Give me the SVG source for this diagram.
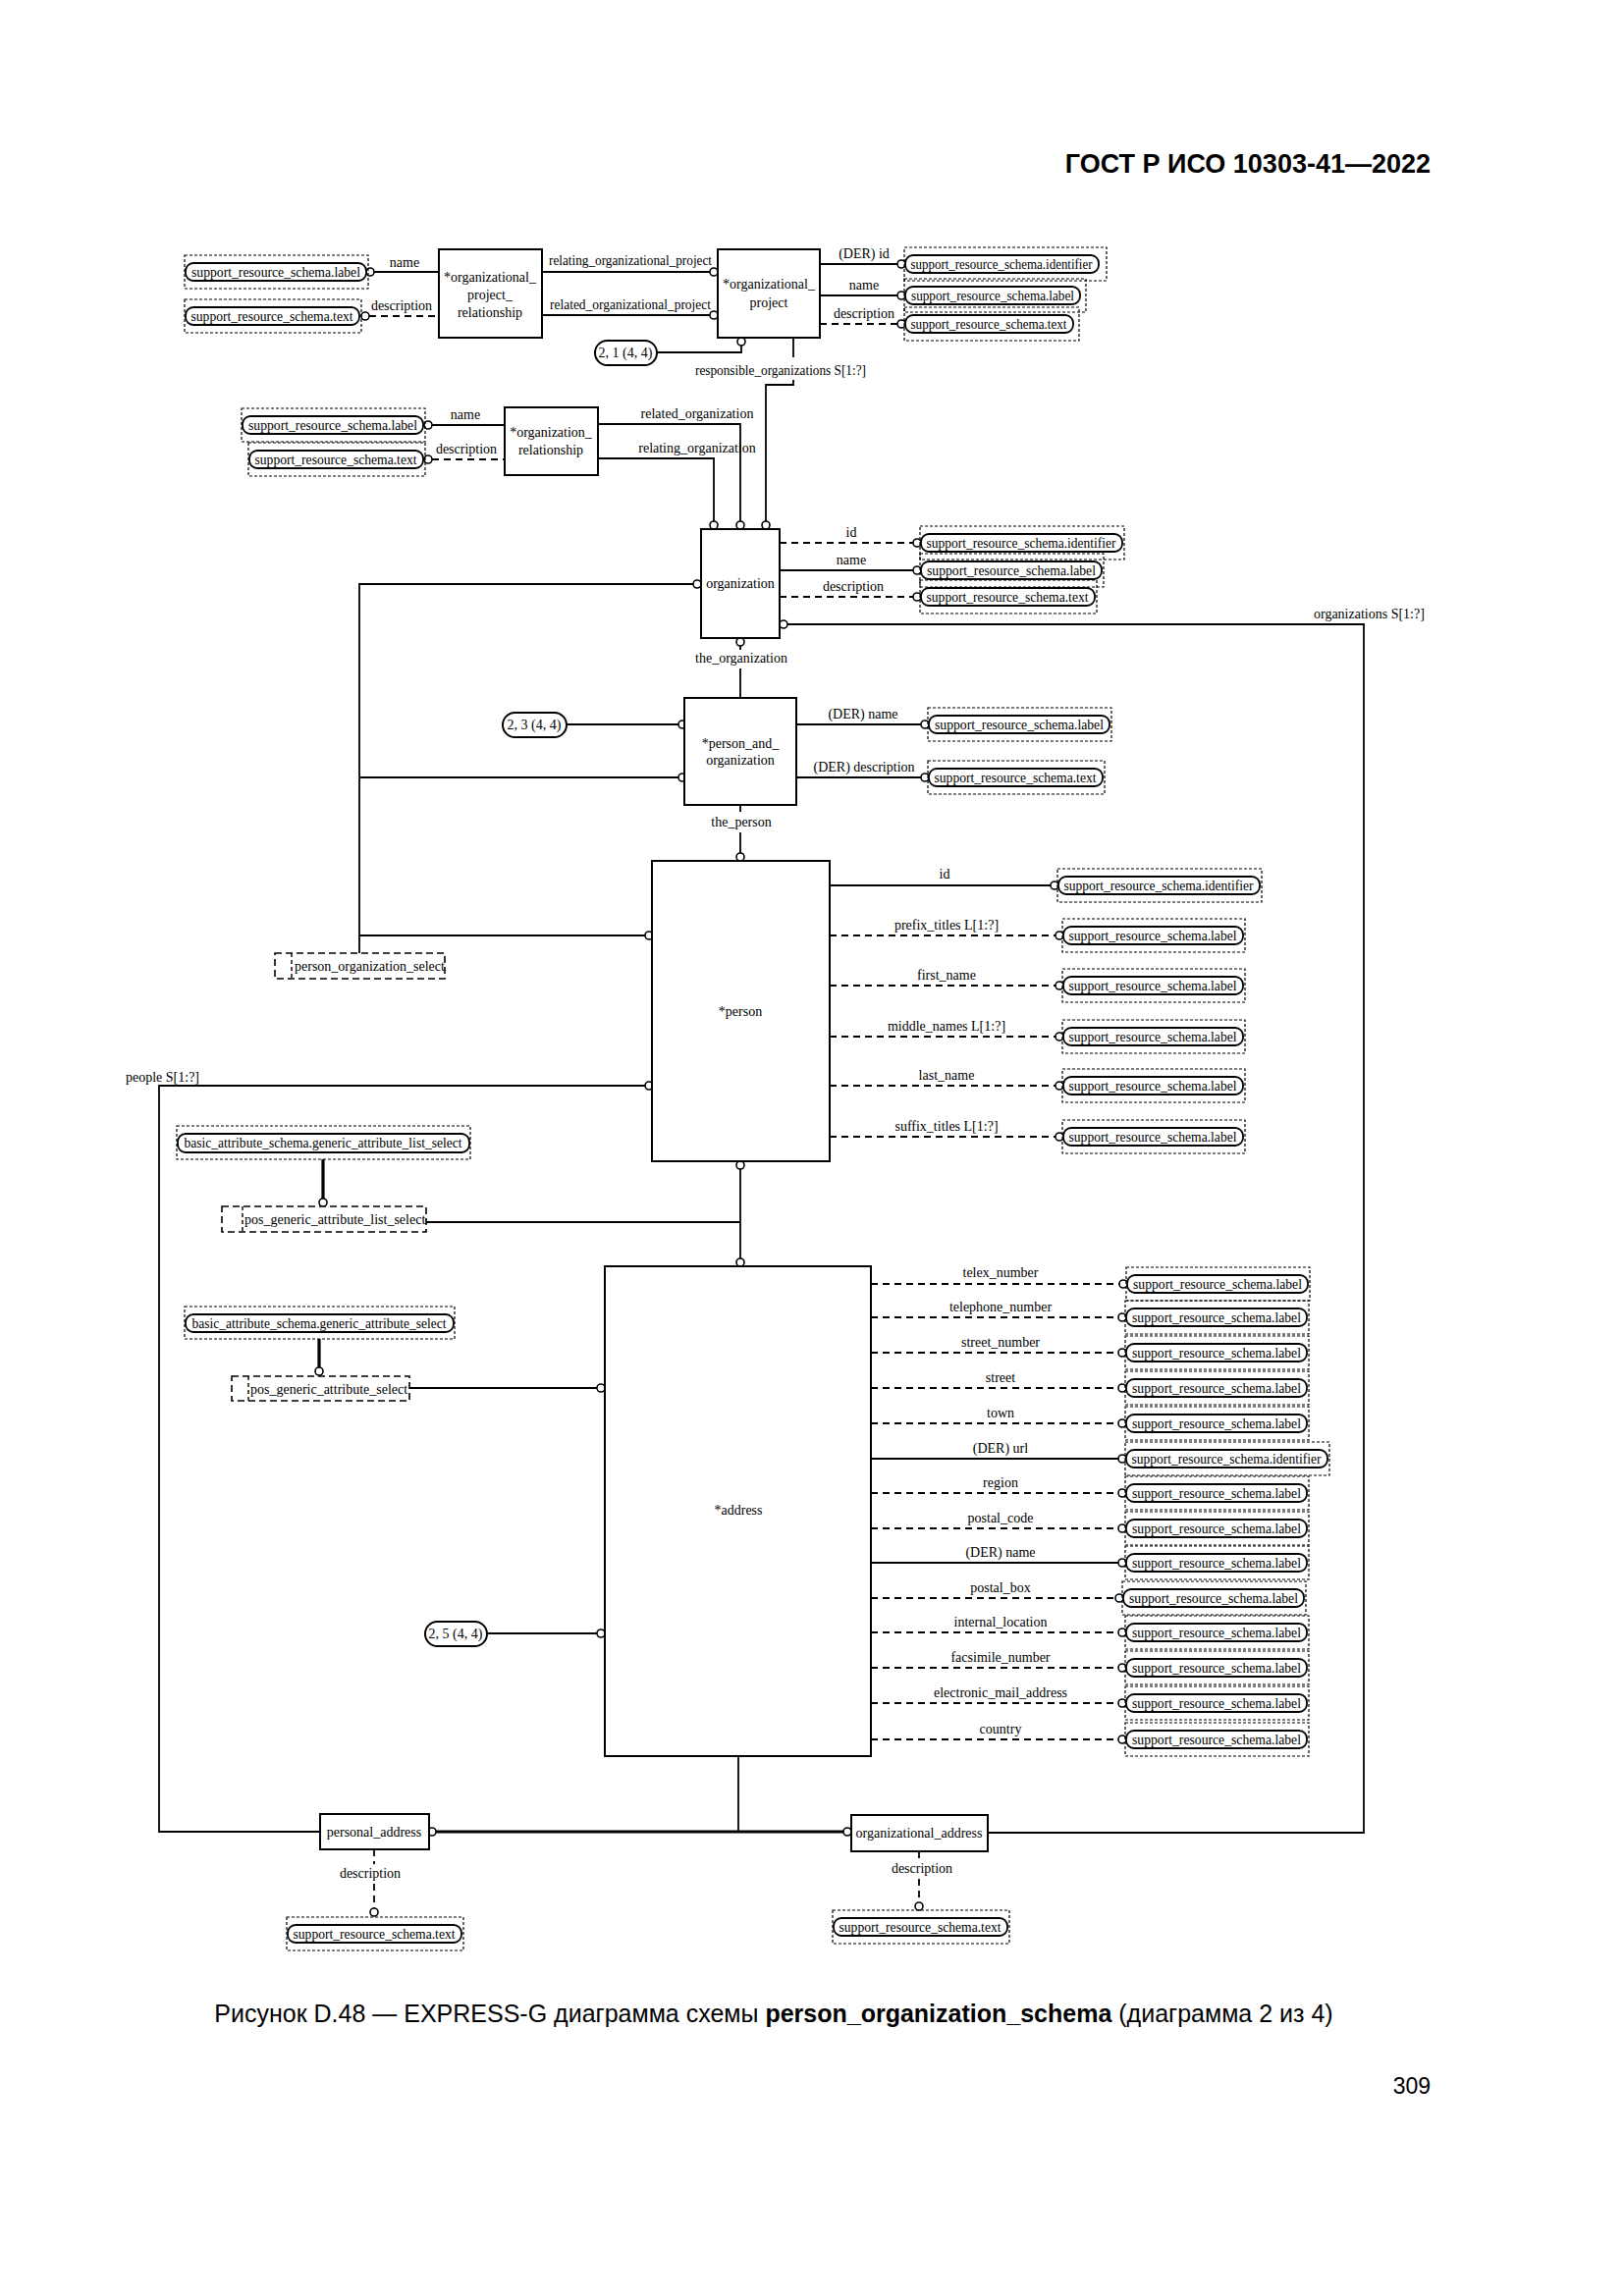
<svg xmlns="http://www.w3.org/2000/svg" width="1654" height="2339" viewBox="0 0 1654 2339">
<style>
.b{fill:#fff;stroke:#000;stroke-width:2}
.rr{fill:#fff;stroke:#000;stroke-width:1.8}
.ro{fill:none;stroke:#000;stroke-width:1.2;stroke-dasharray:3 2}
.sel{fill:#fff;stroke:#000;stroke-width:1.6;stroke-dasharray:7 4}
.sv{fill:none;stroke:#000;stroke-width:1.4;stroke-dasharray:4 3}
.l{fill:none;stroke:#000;stroke-width:1.8}
.d{fill:none;stroke:#000;stroke-width:1.8;stroke-dasharray:7 5}
.k{fill:none;stroke:#000;stroke-width:3.2}
.c{fill:#fff;stroke:#000;stroke-width:1.6}
text{font-family:"Liberation Serif","Times New Roman",serif;font-size:14px;fill:#000}
.m{text-anchor:middle}
.pg{font-family:"Liberation Sans",Arial,sans-serif;font-size:23px}
.cap{font-family:"Liberation Sans",Arial,sans-serif;font-size:25px;text-anchor:middle}
.hd{font-family:"Liberation Sans",Arial,sans-serif;font-size:27px;font-weight:bold;text-anchor:end}
</style>
<rect width="1654" height="2339" fill="#fff"/>
<text class="hd" x="1457" y="176">ГОСТ Р ИСО 10303-41—2022</text>
<text class="cap" x="788" y="2060">Рисунок D.48 — EXPRESS-G диаграмма схемы <tspan font-weight="bold">person_organization_schema</tspan> (диаграмма 2 из 4)</text>
<text class="pg" x="1457" y="2133" text-anchor="end">309</text>

<g id="connectors">
<path class="l" d="M381 277H447"/><path class="d" d="M376 322H447"/>
<path class="l" d="M552 277H723"/><path class="l" d="M552 321H723"/>
<path class="l" d="M669 359H755V352"/>
<path class="l" d="M835 269H914"/><path class="l" d="M835 301H914"/><path class="d" d="M835 330H914"/>
<path class="l" d="M808 344V364"/><path class="l" d="M808 387V392H780V531"/>
<path class="l" d="M440 433H514"/><path class="d" d="M440 468H514"/>
<path class="l" d="M609 432H754V531"/><path class="l" d="M609 467H727V531"/>
<path class="d" d="M794 553H930"/><path class="l" d="M794 581H930"/><path class="d" d="M794 608H930"/>
<path class="l" d="M802 636H1389V1867H1006"/>
<path class="l" d="M706 595H366V971"/>
<path class="l" d="M754 658V662"/><path class="l" d="M754 681V711"/>
<path class="l" d="M577 738H691"/><path class="l" d="M366 792H691"/>
<path class="l" d="M811 738H938"/><path class="l" d="M811 792H938"/>
<path class="l" d="M754 820V827"/><path class="l" d="M754 848V869"/>
<path class="l" d="M366 953H657"/>
<path class="l" d="M657 1106H162V1866H326"/>
<path class="l" d="M845 902H1074"/>
<path class="d" d="M845 953H1079"/><path class="d" d="M845 1004H1079"/><path class="d" d="M845 1056H1079"/><path class="d" d="M845 1106H1079"/><path class="d" d="M845 1158H1079"/>
<path class="k" d="M329 1181V1221"/>
<path class="l" d="M434 1245H754"/><path class="l" d="M754 1191V1282"/>
<path class="k" d="M325 1364V1393"/>
<path class="l" d="M417 1414H608"/>
<path class="l" d="M496 1664H608"/>
<path class="d" d="M887 1308H1144"/><path class="d" d="M887 1342H1143"/><path class="d" d="M887 1378H1143"/><path class="d" d="M887 1414H1143"/><path class="d" d="M887 1450H1143"/>
<path class="l" d="M887 1486H1143"/>
<path class="d" d="M887 1521H1143"/><path class="d" d="M887 1557H1143"/>
<path class="l" d="M887 1592H1143"/>
<path class="d" d="M887 1628H1140"/><path class="d" d="M887 1663H1143"/><path class="d" d="M887 1699H1143"/><path class="d" d="M887 1735H1143"/><path class="d" d="M887 1772H1143"/>
<path class="l" d="M752 1789V1866"/>
<path class="k" d="M444 1866H859"/>
<path class="d" d="M381 1884V1899"/><path class="d" d="M381 1919V1944"/>
<path class="d" d="M936 1886V1895"/><path class="d" d="M936 1914V1938"/>
<circle class="c" cx="377" cy="277" r="4"/><circle class="c" cx="372" cy="322" r="4"/>
<circle class="c" cx="727" cy="277" r="4"/><circle class="c" cx="727" cy="321" r="4"/>
<circle class="c" cx="755" cy="348" r="4"/>
<circle class="c" cx="918" cy="269" r="4"/><circle class="c" cx="918" cy="301" r="4"/><circle class="c" cx="918" cy="330" r="4"/>
<circle class="c" cx="436" cy="433" r="4"/><circle class="c" cx="436" cy="468" r="4"/>
<circle class="c" cx="727" cy="535" r="4"/><circle class="c" cx="754" cy="535" r="4"/><circle class="c" cx="780" cy="535" r="4"/>
<circle class="c" cx="934" cy="553" r="4"/><circle class="c" cx="934" cy="581" r="4"/><circle class="c" cx="934" cy="608" r="4"/>
<circle class="c" cx="798" cy="636" r="4"/><circle class="c" cx="710" cy="595" r="4"/><circle class="c" cx="754" cy="654" r="4"/>
<circle class="c" cx="695" cy="738" r="4"/><circle class="c" cx="695" cy="792" r="4"/>
<circle class="c" cx="942" cy="738" r="4"/><circle class="c" cx="942" cy="792" r="4"/>
<circle class="c" cx="754" cy="873" r="4"/>
<circle class="c" cx="661" cy="953" r="4"/><circle class="c" cx="661" cy="1106" r="4"/>
<circle class="c" cx="1074" cy="902" r="4"/>
<circle class="c" cx="1079" cy="953" r="4"/><circle class="c" cx="1079" cy="1004" r="4"/><circle class="c" cx="1079" cy="1056" r="4"/><circle class="c" cx="1079" cy="1106" r="4"/><circle class="c" cx="1079" cy="1158" r="4"/>
<circle class="c" cx="329" cy="1225" r="4" stroke-width="2.4"/>
<circle class="c" cx="754" cy="1187" r="4"/><circle class="c" cx="754" cy="1286" r="4"/>
<circle class="c" cx="325" cy="1397" r="4" stroke-width="2.4"/>
<circle class="c" cx="612" cy="1414" r="4"/><circle class="c" cx="612" cy="1664" r="4"/>
<circle class="c" cx="1144" cy="1308" r="4"/><circle class="c" cx="1143" cy="1342" r="4"/><circle class="c" cx="1143" cy="1378" r="4"/><circle class="c" cx="1143" cy="1414" r="4"/><circle class="c" cx="1143" cy="1450" r="4"/><circle class="c" cx="1143" cy="1486" r="4"/><circle class="c" cx="1143" cy="1521" r="4"/><circle class="c" cx="1143" cy="1557" r="4"/><circle class="c" cx="1143" cy="1592" r="4"/><circle class="c" cx="1140" cy="1628" r="4"/><circle class="c" cx="1143" cy="1663" r="4"/><circle class="c" cx="1143" cy="1699" r="4"/><circle class="c" cx="1143" cy="1735" r="4"/><circle class="c" cx="1143" cy="1772" r="4"/>
<circle class="c" cx="440" cy="1866" r="4" stroke-width="2.4"/><circle class="c" cx="863" cy="1866" r="4" stroke-width="2.4"/>
<circle class="c" cx="381" cy="1948" r="4"/><circle class="c" cx="936" cy="1942" r="4"/>
<text class="m" x="412" y="272">name</text>
<text class="m" x="409" y="316">description</text>
<text class="m" x="642" y="270" textLength="166" lengthAdjust="spacingAndGlyphs">relating_organizational_project</text>
<text class="m" x="642" y="315" textLength="164" lengthAdjust="spacingAndGlyphs">related_organizational_project</text>
<text class="m" x="880" y="263">(DER) id</text>
<text class="m" x="880" y="295">name</text>
<text class="m" x="880" y="324">description</text>
<text class="m" x="795" y="382" textLength="174" lengthAdjust="spacingAndGlyphs">responsible_organizations S[1:?]</text>
<text class="m" x="474" y="427">name</text>
<text class="m" x="475" y="462">description</text>
<text class="m" x="710" y="426">related_organization</text>
<text class="m" x="710" y="461">relating_organization</text>
<text class="m" x="867" y="547">id</text>
<text class="m" x="867" y="575">name</text>
<text class="m" x="869" y="602">description</text>
<text x="1338" y="630">organizations S[1:?]</text>
<text class="m" x="755" y="675">the_organization</text>
<text class="m" x="879" y="732">(DER) name</text>
<text class="m" x="880" y="786">(DER) description</text>
<text class="m" x="755" y="842">the_person</text>
<text class="m" x="962" y="895">id</text>
<text class="m" x="964" y="947">prefix_titles L[1:?]</text>
<text class="m" x="964" y="998">first_name</text>
<text class="m" x="964" y="1050">middle_names L[1:?]</text>
<text class="m" x="964" y="1100">last_name</text>
<text class="m" x="964" y="1152">suffix_titles L[1:?]</text>
<text x="128" y="1102">people S[1:?]</text>
<text class="m" x="1019" y="1301">telex_number</text>
<text class="m" x="1019" y="1336">telephone_number</text>
<text class="m" x="1019" y="1372">street_number</text>
<text class="m" x="1019" y="1408">street</text>
<text class="m" x="1019" y="1444">town</text>
<text class="m" x="1019" y="1480">(DER) url</text>
<text class="m" x="1019" y="1515">region</text>
<text class="m" x="1019" y="1551">postal_code</text>
<text class="m" x="1019" y="1586">(DER) name</text>
<text class="m" x="1019" y="1622">postal_box</text>
<text class="m" x="1019" y="1657">internal_location</text>
<text class="m" x="1019" y="1693">facsimile_number</text>
<text class="m" x="1019" y="1729">electronic_mail_address</text>
<text class="m" x="1019" y="1766">country</text>
<text class="m" x="377" y="1913">description</text>
<text class="m" x="939" y="1908">description</text>
</g>

<g id="organizational_project_relationship"><rect class="b" x="447" y="254" width="105" height="90"/><text class="m" x="499" y="287">*organizational_</text><text class="m" x="499" y="305">project_</text><text class="m" x="499" y="323">relationship</text></g>
<g id="organizational_project"><rect class="b" x="731" y="254" width="104" height="90"/><text class="m" x="783" y="294">*organizational_</text><text class="m" x="783" y="313">project</text></g>
<g id="pageref_2_1"><rect class="b" x="606" y="347" width="63" height="25" rx="12.5"/><text class="m" x="637" y="364">2, 1 (4, 4)</text></g>
<g id="organization_relationship"><rect class="b" x="514" y="415" width="95" height="69"/><text class="m" x="561" y="445">*organization_</text><text class="m" x="561" y="463">relationship</text></g>
<g id="organization"><rect class="b" x="714" y="539" width="80" height="111"/><text class="m" x="754" y="599">organization</text></g>
<g id="person_and_organization"><rect class="b" x="697" y="711" width="114" height="109"/><text class="m" x="754" y="762">*person_and_</text><text class="m" x="754" y="779">organization</text></g>
<g id="pageref_2_3"><rect class="b" x="512" y="726" width="65" height="25" rx="12.5"/><text class="m" x="544" y="743">2, 3 (4, 4)</text></g>
<g id="person"><rect class="b" x="664" y="877" width="181" height="306"/><text class="m" x="754" y="1035">*person</text></g>
<g id="person_organization_select"><rect class="sel" x="280" y="971" width="173" height="26"/><path class="sv" d="M297 971V997"/><text x="300" y="989">person_organization_select</text></g>
<g id="pos_generic_attribute_list_select"><rect class="sel" x="226" y="1229" width="208" height="26"/><path class="sv" d="M247 1229V1255"/><text x="249" y="1247">pos_generic_attribute_list_select</text></g>
<g id="pos_generic_attribute_select"><rect class="sel" x="236" y="1402" width="181" height="25"/><path class="sv" d="M253 1402V1427"/><text x="255" y="1420">pos_generic_attribute_select</text></g>
<g id="address"><rect class="b" x="616" y="1290" width="271" height="499"/><text class="m" x="752" y="1543">*address</text></g>
<g id="pageref_2_5"><rect class="b" x="433" y="1652" width="63" height="25" rx="12.5"/><text class="m" x="464" y="1669">2, 5 (4, 4)</text></g>
<g id="personal_address"><rect class="b" x="326" y="1848" width="111" height="36"/><text class="m" x="381" y="1871">personal_address</text></g>
<g id="organizational_address"><rect class="b" x="867" y="1849" width="139" height="37"/><text class="m" x="936" y="1872">organizational_address</text></g>

<g id="ref_A1"><rect class="ro" x="188" y="260" width="187" height="34"/><rect class="rr" x="189" y="268" width="184" height="18" rx="8"/><text class="m" x="281" y="282" textLength="172" lengthAdjust="spacingAndGlyphs">support_resource_schema.label</text></g>
<g id="ref_A2"><rect class="ro" x="188" y="305" width="180" height="34"/><rect class="rr" x="189" y="313" width="177" height="18" rx="8"/><text class="m" x="277" y="327" textLength="165" lengthAdjust="spacingAndGlyphs">support_resource_schema.text</text></g>
<g id="ref_B1"><rect class="ro" x="921" y="252" width="206" height="34"/><rect class="rr" x="922" y="260" width="197" height="18" rx="8"/><text class="m" x="1020" y="274" textLength="185" lengthAdjust="spacingAndGlyphs">support_resource_schema.identifier</text></g>
<g id="ref_B2"><rect class="ro" x="921" y="284" width="185" height="34"/><rect class="rr" x="922" y="292" width="178" height="18" rx="8"/><text class="m" x="1011" y="306" textLength="166" lengthAdjust="spacingAndGlyphs">support_resource_schema.label</text></g>
<g id="ref_B3"><rect class="ro" x="921" y="313" width="178" height="34"/><rect class="rr" x="922" y="321" width="171" height="18" rx="8"/><text class="m" x="1007" y="335" textLength="159" lengthAdjust="spacingAndGlyphs">support_resource_schema.text</text></g>
<g id="ref_C1"><rect class="ro" x="246" y="416" width="187" height="34"/><rect class="rr" x="247" y="424" width="184" height="18" rx="8"/><text class="m" x="339" y="438" textLength="172" lengthAdjust="spacingAndGlyphs">support_resource_schema.label</text></g>
<g id="ref_C2"><rect class="ro" x="253" y="451" width="180" height="34"/><rect class="rr" x="254" y="459" width="177" height="18" rx="8"/><text class="m" x="342" y="473" textLength="165" lengthAdjust="spacingAndGlyphs">support_resource_schema.text</text></g>
<g id="ref_D1"><rect class="ro" x="937" y="536" width="208" height="34"/><rect class="rr" x="938" y="544" width="205" height="18" rx="8"/><text class="m" x="1040" y="558" textLength="193" lengthAdjust="spacingAndGlyphs">support_resource_schema.identifier</text></g>
<g id="ref_D2"><rect class="ro" x="937" y="564" width="187" height="34"/><rect class="rr" x="938" y="572" width="184" height="18" rx="8"/><text class="m" x="1030" y="586" textLength="172" lengthAdjust="spacingAndGlyphs">support_resource_schema.label</text></g>
<g id="ref_D3"><rect class="ro" x="937" y="591" width="180" height="34"/><rect class="rr" x="938" y="599" width="177" height="18" rx="8"/><text class="m" x="1026" y="613" textLength="165" lengthAdjust="spacingAndGlyphs">support_resource_schema.text</text></g>
<g id="ref_E1"><rect class="ro" x="945" y="721" width="187" height="34"/><rect class="rr" x="946" y="729" width="184" height="18" rx="8"/><text class="m" x="1038" y="743" textLength="172" lengthAdjust="spacingAndGlyphs">support_resource_schema.label</text></g>
<g id="ref_E2"><rect class="ro" x="945" y="775" width="180" height="34"/><rect class="rr" x="946" y="783" width="177" height="18" rx="8"/><text class="m" x="1034" y="797" textLength="165" lengthAdjust="spacingAndGlyphs">support_resource_schema.text</text></g>
<g id="ref_F0"><rect class="ro" x="1077" y="885" width="208" height="34"/><rect class="rr" x="1078" y="893" width="205" height="18" rx="8"/><text class="m" x="1180" y="907" textLength="193" lengthAdjust="spacingAndGlyphs">support_resource_schema.identifier</text></g>
<g id="ref_F1"><rect class="ro" x="1082" y="936" width="186" height="34"/><rect class="rr" x="1083" y="944" width="183" height="18" rx="8"/><text class="m" x="1174" y="958" textLength="171" lengthAdjust="spacingAndGlyphs">support_resource_schema.label</text></g>
<g id="ref_F2"><rect class="ro" x="1082" y="987" width="186" height="34"/><rect class="rr" x="1083" y="995" width="183" height="18" rx="8"/><text class="m" x="1174" y="1009" textLength="171" lengthAdjust="spacingAndGlyphs">support_resource_schema.label</text></g>
<g id="ref_F3"><rect class="ro" x="1082" y="1039" width="186" height="34"/><rect class="rr" x="1083" y="1047" width="183" height="18" rx="8"/><text class="m" x="1174" y="1061" textLength="171" lengthAdjust="spacingAndGlyphs">support_resource_schema.label</text></g>
<g id="ref_F4"><rect class="ro" x="1082" y="1089" width="186" height="34"/><rect class="rr" x="1083" y="1097" width="183" height="18" rx="8"/><text class="m" x="1174" y="1111" textLength="171" lengthAdjust="spacingAndGlyphs">support_resource_schema.label</text></g>
<g id="ref_F5"><rect class="ro" x="1082" y="1141" width="186" height="34"/><rect class="rr" x="1083" y="1149" width="183" height="18" rx="8"/><text class="m" x="1174" y="1163" textLength="171" lengthAdjust="spacingAndGlyphs">support_resource_schema.label</text></g>
<g id="ref_BA1"><rect class="ro" x="180" y="1147" width="299" height="34"/><rect class="rr" x="181" y="1155" width="297" height="19" rx="8"/><text class="m" x="329" y="1169" textLength="283" lengthAdjust="spacingAndGlyphs">basic_attribute_schema.generic_attribute_list_select</text></g>
<g id="ref_BA2"><rect class="ro" x="188" y="1331" width="275" height="33"/><rect class="rr" x="189" y="1339" width="273" height="18" rx="8"/><text class="m" x="325" y="1353" textLength="259" lengthAdjust="spacingAndGlyphs">basic_attribute_schema.generic_attribute_select</text></g>
<g id="ref_H0"><rect class="ro" x="1147" y="1291" width="187" height="34"/><rect class="rr" x="1148" y="1299" width="184" height="18" rx="8"/><text class="m" x="1240" y="1313" textLength="172" lengthAdjust="spacingAndGlyphs">support_resource_schema.label</text></g>
<g id="ref_H1"><rect class="ro" x="1146" y="1325" width="187" height="34"/><rect class="rr" x="1147" y="1333" width="184" height="18" rx="8"/><text class="m" x="1239" y="1347" textLength="172" lengthAdjust="spacingAndGlyphs">support_resource_schema.label</text></g>
<g id="ref_H2"><rect class="ro" x="1146" y="1361" width="187" height="34"/><rect class="rr" x="1147" y="1369" width="184" height="18" rx="8"/><text class="m" x="1239" y="1383" textLength="172" lengthAdjust="spacingAndGlyphs">support_resource_schema.label</text></g>
<g id="ref_H3"><rect class="ro" x="1146" y="1397" width="187" height="34"/><rect class="rr" x="1147" y="1405" width="184" height="18" rx="8"/><text class="m" x="1239" y="1419" textLength="172" lengthAdjust="spacingAndGlyphs">support_resource_schema.label</text></g>
<g id="ref_H4"><rect class="ro" x="1146" y="1433" width="187" height="34"/><rect class="rr" x="1147" y="1441" width="184" height="18" rx="8"/><text class="m" x="1239" y="1455" textLength="172" lengthAdjust="spacingAndGlyphs">support_resource_schema.label</text></g>
<g id="ref_H5"><rect class="ro" x="1146" y="1469" width="208" height="34"/><rect class="rr" x="1147" y="1477" width="205" height="18" rx="8"/><text class="m" x="1249" y="1491" textLength="193" lengthAdjust="spacingAndGlyphs">support_resource_schema.identifier</text></g>
<g id="ref_H6"><rect class="ro" x="1146" y="1504" width="187" height="34"/><rect class="rr" x="1147" y="1512" width="184" height="18" rx="8"/><text class="m" x="1239" y="1526" textLength="172" lengthAdjust="spacingAndGlyphs">support_resource_schema.label</text></g>
<g id="ref_H7"><rect class="ro" x="1146" y="1540" width="187" height="34"/><rect class="rr" x="1147" y="1548" width="184" height="18" rx="8"/><text class="m" x="1239" y="1562" textLength="172" lengthAdjust="spacingAndGlyphs">support_resource_schema.label</text></g>
<g id="ref_H8"><rect class="ro" x="1146" y="1575" width="187" height="34"/><rect class="rr" x="1147" y="1583" width="184" height="18" rx="8"/><text class="m" x="1239" y="1597" textLength="172" lengthAdjust="spacingAndGlyphs">support_resource_schema.label</text></g>
<g id="ref_H9"><rect class="ro" x="1143" y="1611" width="187" height="34"/><rect class="rr" x="1144" y="1619" width="184" height="18" rx="8"/><text class="m" x="1236" y="1633" textLength="172" lengthAdjust="spacingAndGlyphs">support_resource_schema.label</text></g>
<g id="ref_H10"><rect class="ro" x="1146" y="1646" width="187" height="34"/><rect class="rr" x="1147" y="1654" width="184" height="18" rx="8"/><text class="m" x="1239" y="1668" textLength="172" lengthAdjust="spacingAndGlyphs">support_resource_schema.label</text></g>
<g id="ref_H11"><rect class="ro" x="1146" y="1682" width="187" height="34"/><rect class="rr" x="1147" y="1690" width="184" height="18" rx="8"/><text class="m" x="1239" y="1704" textLength="172" lengthAdjust="spacingAndGlyphs">support_resource_schema.label</text></g>
<g id="ref_H12"><rect class="ro" x="1146" y="1718" width="187" height="34"/><rect class="rr" x="1147" y="1726" width="184" height="18" rx="8"/><text class="m" x="1239" y="1740" textLength="172" lengthAdjust="spacingAndGlyphs">support_resource_schema.label</text></g>
<g id="ref_H13"><rect class="ro" x="1146" y="1755" width="187" height="34"/><rect class="rr" x="1147" y="1763" width="184" height="18" rx="8"/><text class="m" x="1239" y="1777" textLength="172" lengthAdjust="spacingAndGlyphs">support_resource_schema.label</text></g>
<g id="ref_G1"><rect class="ro" x="292" y="1953" width="180" height="34"/><rect class="rr" x="293" y="1961" width="177" height="18" rx="8"/><text class="m" x="381" y="1975" textLength="165" lengthAdjust="spacingAndGlyphs">support_resource_schema.text</text></g>
<g id="ref_G2"><rect class="ro" x="848" y="1946" width="180" height="34"/><rect class="rr" x="849" y="1954" width="177" height="18" rx="8"/><text class="m" x="937" y="1968" textLength="165" lengthAdjust="spacingAndGlyphs">support_resource_schema.text</text></g>
</svg>
